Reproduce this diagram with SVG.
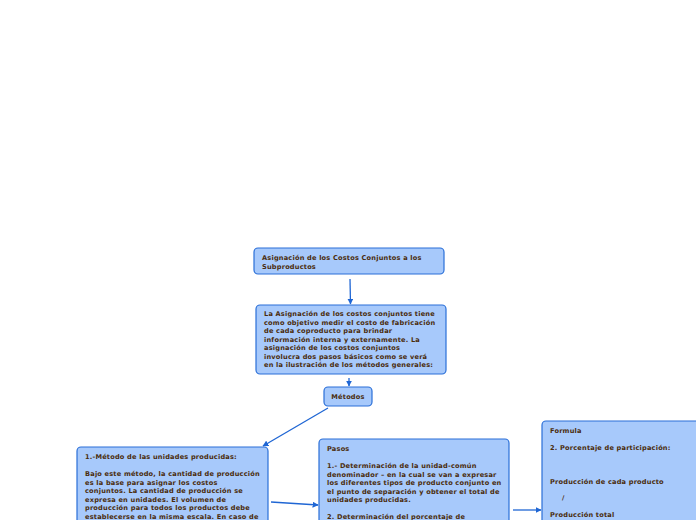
<svg xmlns="http://www.w3.org/2000/svg" width="696" height="520" viewBox="0 0 696 520">
<defs>
<style>
.box{fill:#a7c9fb;stroke:#2a6fd8;stroke-width:1.2}
.t{font-family:"DejaVu Sans",Verdana,sans-serif;font-weight:bold;font-size:6.6px;letter-spacing:0.2px;fill:#4a2c0c}
.c{fill:none;stroke:#1f66d4;stroke-width:1.3}
</style>
<marker id="ah" viewBox="0 0 10 10" refX="9" refY="5" markerWidth="6" markerHeight="6" orient="auto-start-reverse" markerUnits="userSpaceOnUse"><path d="M0,0 L10,5 L0,10 z" fill="#1f66d4"/></marker>
</defs>
<rect width="696" height="520" fill="#ffffff"/>
<g id="connectors">
<path class="c" d="M350,279 L350.5,304" marker-end="url(#ah)"/>
<path class="c" d="M349,378 L349,386" marker-end="url(#ah)"/>
<path class="c" d="M328,408 L263,446" marker-end="url(#ah)"/>
<path class="c" d="M271,502 L318,505" marker-end="url(#ah)"/>
<path class="c" d="M513,510 L541,510" marker-end="url(#ah)"/>
</g>
<g id="n1">
<rect class="box" x="254" y="248" width="190" height="26" rx="4"/>
<text class="t" x="262" y="260">Asignación de los Costos Conjuntos a los</text>
<text class="t" x="262" y="268.5">Subproductos</text>
</g>
<g id="n2">
<rect class="box" x="256" y="305" width="190" height="69" rx="4"/>
<text class="t" x="264" y="316">La Asignación de los costos conjuntos tiene</text>
<text class="t" x="264" y="324.5">como objetivo medir el costo de fabricación</text>
<text class="t" x="264" y="333">de cada coproducto para brindar</text>
<text class="t" x="264" y="341.5">información interna y externamente. La</text>
<text class="t" x="264" y="350">asignación de los costos conjuntos</text>
<text class="t" x="264" y="358.5">involucra dos pasos básicos como se verá</text>
<text class="t" x="264" y="367">en la ilustración de los métodos generales:</text>
</g>
<g id="n3">
<rect class="box" x="324" y="387" width="48" height="19" rx="4"/>
<text class="t" x="348" y="399" text-anchor="middle">Métodos</text>
</g>
<g id="n4">
<rect class="box" x="77" y="447" width="191" height="80" rx="4"/>
<text class="t" x="85" y="459">1.-Método de las unidades producidas:</text>
<text class="t" x="85" y="476">Bajo este método, la cantidad de producción</text>
<text class="t" x="85" y="484.5">es la base para asignar los costos</text>
<text class="t" x="85" y="493">conjuntos. La cantidad de producción se</text>
<text class="t" x="85" y="501.5">expresa en unidades. El volumen de</text>
<text class="t" x="85" y="510">producción para todos los productos debe</text>
<text class="t" x="85" y="518.5">establecerse en la misma escala. En caso de</text>
</g>
<g id="n5">
<rect class="box" x="319" y="439" width="190" height="90" rx="4"/>
<text class="t" x="327" y="451">Pasos</text>
<text class="t" x="327" y="468">1.- Determinación de la unidad-común</text>
<text class="t" x="327" y="476.5">denominador – en la cual se van a expresar</text>
<text class="t" x="327" y="485">los diferentes tipos de producto conjunto en</text>
<text class="t" x="327" y="493.5">el punto de separación y obtener el total de</text>
<text class="t" x="327" y="502">unidades producidas.</text>
<text class="t" x="327" y="519">2. Determinación del porcentaje de</text>
</g>
<g id="n6">
<rect class="box" x="542" y="421" width="160" height="110" rx="4"/>
<text class="t" x="550" y="433">Formula</text>
<text class="t" x="550" y="450">2. Porcentaje de participación:</text>
<text class="t" x="550" y="483.5">Producción de cada producto</text>
<text class="t" x="562" y="500">/</text>
<text class="t" x="550" y="517">Producción total</text>
</g>
</svg>
